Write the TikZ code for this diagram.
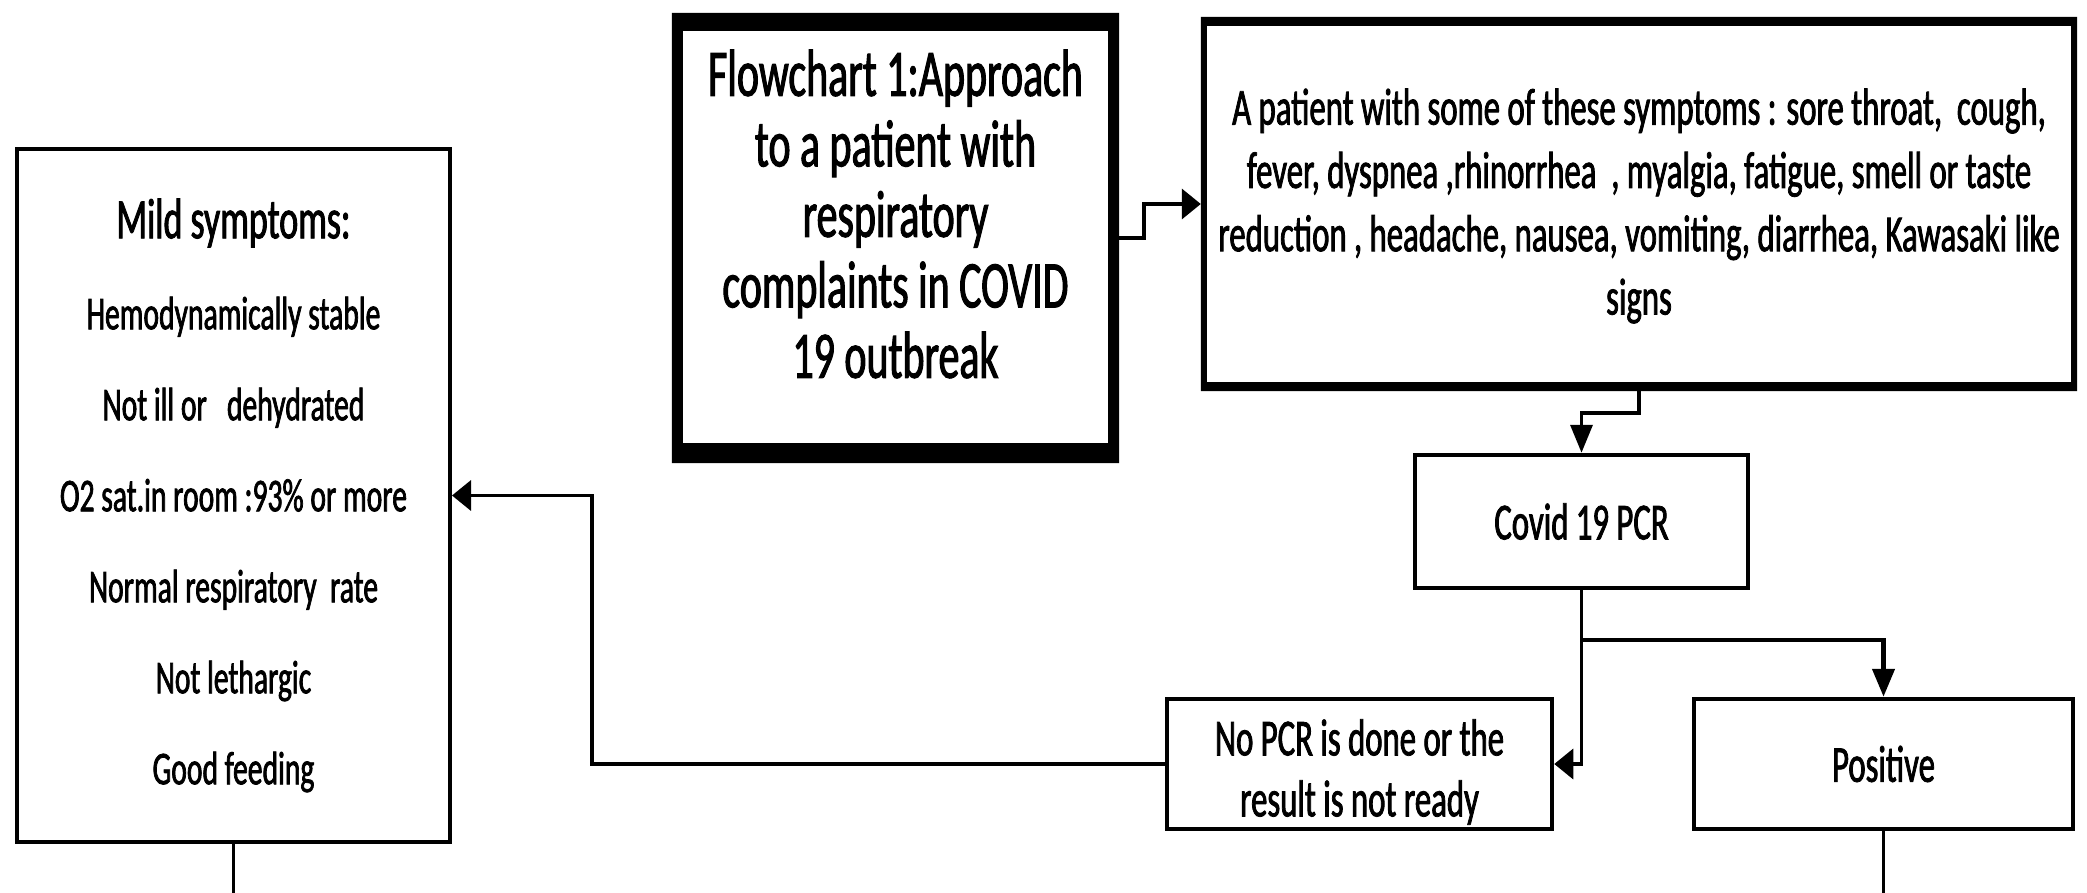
\documentclass[tikz,border=0pt]{standalone}
\usepackage{fontspec}
\newfontfamily\cf[FakeStretch=0.63,FakeBold=1.5]{Carlito}
\usetikzlibrary{arrows.meta}
\begin{document}
\begin{tikzpicture}[x=1pt,y=-1pt,
  thinbox/.style={draw=black,line width=4.5pt,inner sep=0pt,align=center},
  framebox/.style={draw=none,inner sep=0pt,align=center},
  txt/.style={inner sep=0pt,align=center},
  conn/.style={draw=black,line width=3.5pt},
  harr/.style={-{Triangle[length=19pt,width=30pt]}},
  varr/.style={-{Triangle[length=28pt,width=22pt]}}]
\fill[white] (0,0) rectangle (2087,893);
\useasboundingbox (0,0) rectangle (2087,893);

% title box
\node[framebox,minimum width=447pt,minimum height=450pt] (title) at (895.5,238) {};
\fill[black,even odd rule] (title.north west) rectangle (title.south east)
  ([xshift=11pt,yshift=-18pt]title.north west) rectangle ([xshift=-11pt,yshift=20pt]title.south east);
\node[txt,font=\cf\fontsize{66.5pt}{70.5pt}\selectfont] (titletxt) at ([yshift=24pt]title.center)
  {Flowchart 1:Approach\\to a patient with\\respiratory\\complaints in COVID\\19 outbreak};

% symptoms box
\node[framebox,minimum width=876pt,minimum height=374pt,
  font=\cf\fontsize{52pt}{63.3pt}\selectfont] (symp) at (1639,206)
  {A patient with some of these symptoms : sore throat,\ \ cough,\\
   fever, dyspnea ,rhinorrhea\ \ , myalgia, fatigue, smell or taste\\
   reduction , headache, nausea, vomiting, diarrhea, Kawasaki like\\
   signs};
\fill[black,even odd rule] ([yshift=2pt]symp.north west) rectangle ([yshift=2pt]symp.south east)
  ([xshift=6pt,yshift=-7pt]symp.north west) rectangle ([xshift=-6pt,yshift=11pt]symp.south east);

% mild box
\node[thinbox,line width=4pt,minimum width=433pt,minimum height=693pt,
  font=\cf\fontsize{47pt}{91pt}\selectfont] (mild) at (233.5,495.5)
  {{\fontsize{57pt}{91pt}\selectfont Mild symptoms:}\\Hemodynamically stable\\Not ill or\ \ \ dehydrated\\O2 sat.in room :93\% or more\\Normal respiratory\ \ rate\\Not lethargic\\Good feeding};

% PCR box
\node[thinbox,minimum width=333pt,minimum height=133pt,
  font=\cf\fontsize{52pt}{57pt}\selectfont] (pcr) at (1581.5,521.5) {Covid 19 PCR};

% No PCR box
\node[thinbox,minimum width=385pt,minimum height=130pt] (nopcr) at (1359.5,764) {};
\node[txt,font=\cf\fontsize{52pt}{61pt}\selectfont] (nopcrtxt) at ([yshift=-8pt]nopcr.center)
  {No PCR is done or the\\result is not ready};

% Positive box
\node[thinbox,minimum width=379pt,minimum height=130pt,
  font=\cf\fontsize{52pt}{57pt}\selectfont] (pos) at (1883.5,764) {Positive};

% connectors
\draw[conn,harr] (title.east) -- ++(25,0) |- ([yshift=2pt]symp.west);
\draw[conn,varr] ([yshift=2pt]symp.south) -- ++(0,22) -| (pcr.north);
\draw[conn,harr] (pcr.south) |- (nopcr.east);
\coordinate (br) at (pcr.south |- 0,640);
\draw[conn,line width=4.5pt,varr] (br) -| (pos.north);
\draw[conn,harr] (nopcr.west) -- ++(-573,0) |- (mild.east);
\coordinate (mildout) at (mild.south |- 0,893);
\coordinate (posout) at (pos.south |- 0,893);
\draw[conn] (mild.south) -- (mildout);
\draw[conn] (pos.south) -- (posout);
\end{tikzpicture}
\end{document}
